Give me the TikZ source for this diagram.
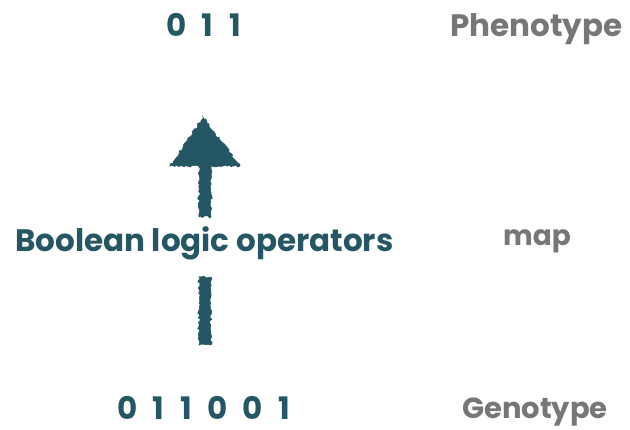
\documentclass[tikz,border=0pt]{standalone}
\usepackage{fontspec}
\setmainfont{Poppins}
\usetikzlibrary{decorations.pathmorphing,calc}
\definecolor{teal1}{HTML}{255663}
\definecolor{gray1}{HTML}{777777}
\newcommand{\dg}{\hspace{15.5pt}}
\tikzset{
  tealtxt/.style={text=teal1, font=\fontsize{31}{31}\selectfont\bfseries, inner sep=0pt, anchor=base west},
  graytxt/.style={text=gray1, font=\fontsize{28}{28}\selectfont\bfseries, inner sep=0pt, anchor=base west},
  rough/.style={fill=teal1, draw=teal1, line width=0.6pt,
    decoration={random steps, segment length=2pt, amplitude=1.2pt}, decorate},
}
\begin{document}
\begin{tikzpicture}[x=1pt,y=-1pt]
\useasboundingbox (0,0) rectangle (630,430);
\node[tealtxt] (pheno) at (166,37) {0\dg1\dg1};
\node[graytxt, font=\fontsize{31}{31}\selectfont\bfseries] (phenolab) at (450,37) {Phenotype};
\node[tealtxt] (ops) at (15,252) {Boolean logic operators};
\node[graytxt] (maplab) at (503,246) {map};
\node[tealtxt] (geno) at (117,420) {0\dg1\dg1\dg0\dg0\dg1};
\node[graytxt, font=\fontsize{29}{29}\selectfont\bfseries] (genolab) at (462,419) {Genotype};
% sketchy arrow from genotype to phenotype
\coordinate (abot) at (205,345);
\coordinate (abreak) at (205,277);
\coordinate (aresume) at (205,217);
\coordinate (ahead) at (205,166);
\coordinate (atip) at (203,117);
\path[rough] ($(abot)+(-6,0)$) -- ($(abreak)+(-6,0)$) -- ($(abreak)+(6,0)$) -- ($(abot)+(6,0)$) -- cycle;
\path[rough] ($(aresume)+(-6,0)$) -- ($(ahead)+(-6,0)$) -- ($(ahead)+(6,0)$) -- ($(aresume)+(6,0)$) -- cycle;
\path[rough] (atip) -- ($(ahead)+(35,0)$) -- ($(ahead)+(-35,0)$) -- cycle;
\end{tikzpicture}
\end{document}
